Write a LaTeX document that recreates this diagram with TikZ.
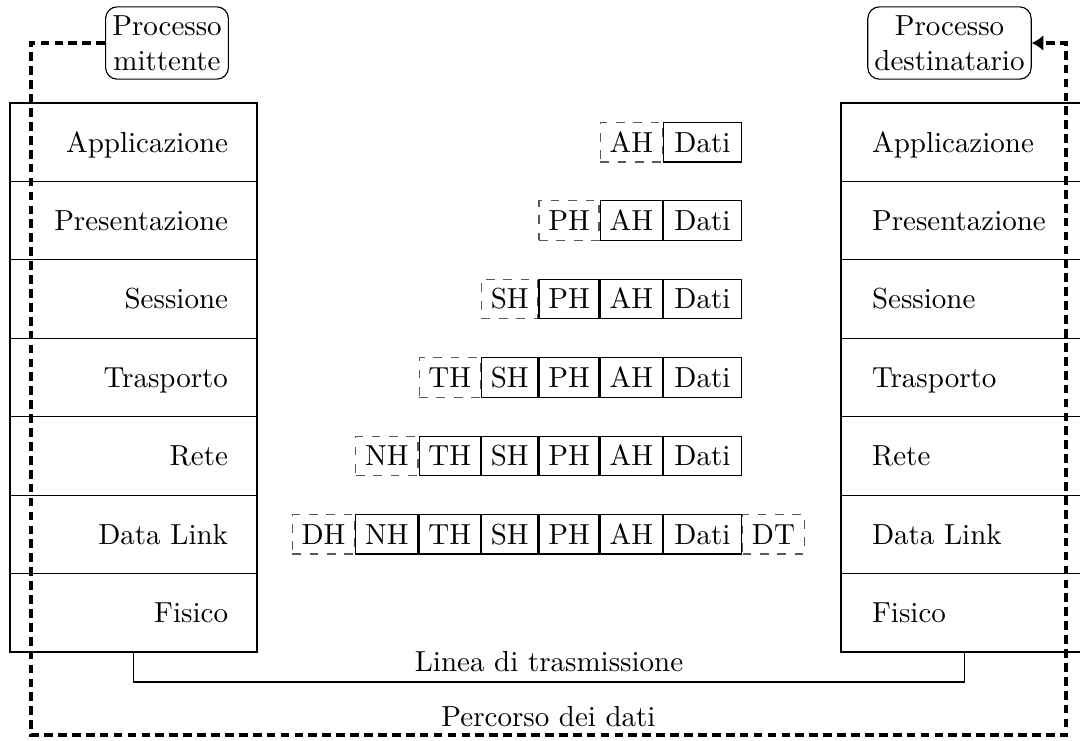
\documentclass[tikz,border=0pt]{standalone}
\usetikzlibrary{arrows.meta}
\pgfdeclarelayer{bg}
\pgfsetlayers{bg,main}
\tikzset{
  layerL/.style={draw, minimum height=27.06pt, text width=65.2pt, inner xsep=10pt, inner ysep=0pt, align=right, text height=6.83pt, text depth=0pt},
  layerR/.style={draw, minimum height=27.06pt, text width=63.8pt, inner xsep=10.7pt, inner ysep=0pt, align=left, text height=6.83pt, text depth=0pt},
  cell/.style={draw, text height=6.83pt, text depth=0pt, inner ysep=3.4pt, inner xsep=3.2pt, anchor=east},
  datacell/.style={cell, inner xsep=3.8pt},
  hcell/.style={cell, draw=black!65, dashed},
  hcellR/.style={draw, text height=6.83pt, text depth=0pt, inner ysep=3.4pt, inner xsep=3.2pt, anchor=west, draw=black!65, dashed},
  proc/.style={draw, rounded corners=4pt, align=center, inner xsep=2.3pt, inner ysep=3pt},
  datapath/.style={line width=1.05pt, dash pattern=on 3pt off 1.8pt},
}
\begin{document}
\begin{tikzpicture}[x=0.345pt, y=-0.345pt]
\useasboundingbox (0,0) rectangle (1080,740);
\clip (0,0) rectangle (1080,740);

% layer stacks
\foreach \t [count=\i] in {Applicazione, Presentazione, Sessione, Trasporto, Rete, Data Link, Fisico} {
  \node[layerL] (L\i) at (133.5, {103+(\i-0.5)*78.43}) {\t};
  \node[layerR] (R\i) at (964.5, {103+(\i-0.5)*78.43}) {\t};
}

% processes
\node[proc] (pm) at (167,43) {Processo\\mittente};
\node[proc] (pd) at (949.5,43) {Processo\\destinatario};

% row 1
\node[datacell] (d1) at (742,142.2) {Dati};
\begin{pgfonlayer}{bg}\node[hcell] (h1) at (d1.west) {AH};\end{pgfonlayer}
% row 2
\node[datacell] (d2) at (742,220.6) {Dati};
\node[cell] (a2) at (d2.west) {AH};
\begin{pgfonlayer}{bg}\node[hcell] (h2) at (a2.west) {PH};\end{pgfonlayer}
% row 3
\node[datacell] (d3) at (742,299) {Dati};
\node[cell] (a3) at (d3.west) {AH};
\node[cell] (p3) at (a3.west) {PH};
\begin{pgfonlayer}{bg}\node[hcell] (h3) at (p3.west) {SH};\end{pgfonlayer}
% row 4
\node[datacell] (d4) at (742,377.5) {Dati};
\node[cell] (a4) at (d4.west) {AH};
\node[cell] (p4) at (a4.west) {PH};
\node[cell] (s4) at (p4.west) {SH};
\begin{pgfonlayer}{bg}\node[hcell] (h4) at (s4.west) {TH};\end{pgfonlayer}
% row 5
\node[datacell] (d5) at (742,455.9) {Dati};
\node[cell] (a5) at (d5.west) {AH};
\node[cell] (p5) at (a5.west) {PH};
\node[cell] (s5) at (p5.west) {SH};
\node[cell] (t5) at (s5.west) {TH};
\begin{pgfonlayer}{bg}\node[hcell] (h5) at (t5.west) {NH};\end{pgfonlayer}
% row 6
\node[datacell] (d6) at (742,534.3) {Dati};
\node[cell] (a6) at (d6.west) {AH};
\node[cell] (p6) at (a6.west) {PH};
\node[cell] (s6) at (p6.west) {SH};
\node[cell] (t6) at (s6.west) {TH};
\node[cell] (n6) at (t6.west) {NH};
\begin{pgfonlayer}{bg}
\node[hcell] (h6) at (n6.west) {DH};
\node[hcellR] (tr6) at (d6.east) {DT};
\end{pgfonlayer}

% transmission line
\coordinate (ty) at (0,682);
\draw (L7.south) -- (L7.south |- ty) -- node[above, inner sep=3.3pt] {Linea di trasmissione} (R7.south |- ty) -- (R7.south);

% data path
\coordinate (c0) at (31,43);
\coordinate (c1) at (31,735);
\coordinate (c2) at (1066,735);
\coordinate (c3) at (1066,43);
\draw[datapath, -{Latex[length=4pt, width=5.5pt]}] (pm.west) -- (c0) -- (c1) -- node[above, inner sep=2.2pt] {Percorso dei dati} (c2) -- (c3) -- (pd.east);
\end{tikzpicture}
\end{document}
